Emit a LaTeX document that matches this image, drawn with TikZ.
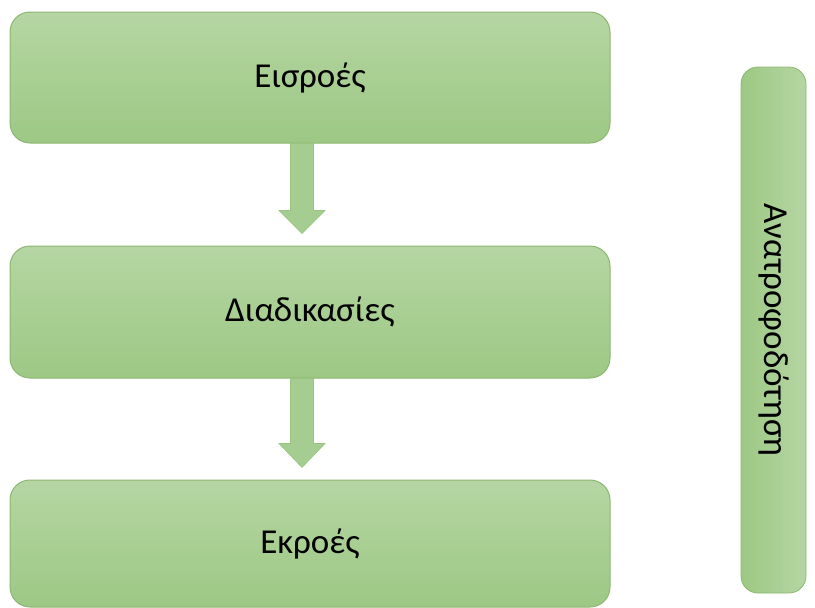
\documentclass[tikz,border=0pt]{standalone}
\usepackage{fontspec}
\setmainfont{Carlito}
\usetikzlibrary{calc}
\definecolor{gtop}{RGB}{181,214,163}
\definecolor{gbot}{RGB}{157,200,132}
\definecolor{gline}{RGB}{140,182,114}
\definecolor{afill}{RGB}{166,205,145}
\definecolor{aline}{RGB}{152,196,128}
\tikzset{
  stagebox/.style={draw=gline, line width=1pt, rounded corners=20pt, top color=gtop, bottom color=gbot,
    minimum width=600pt, inner sep=0pt, font=\fontsize{35}{40}\selectfont, text=black},
  sidebox/.style={draw=gline, line width=0.8pt, rounded corners=17pt, left color=gbot, right color=gtop,
    minimum width=526pt, minimum height=65pt, inner sep=0pt, rotate=-90, font=\fontsize{35}{40}\selectfont, text=black},
  blockarrow/.style={fill=afill, draw=aline, line width=0.6pt, line join=miter}
}
\begin{document}
\begin{tikzpicture}[x=1pt,y=-1pt]
\useasboundingbox (0,0) rectangle (815,608);
\node[stagebox, minimum height=131pt] (b1) at (310,77.5) {Εισροές};
\node[stagebox, minimum height=132pt] (b2) at (310,312) {Διαδικασίες};
\node[stagebox, minimum height=127pt] (b3) at (310,543.5) {Εκροές};
\node[sidebox] (fb) at (773.5,330) {Ανατροφοδότηση};
\draw[blockarrow] ($(b1.south)+(-19.5,0)$) -- ++(0,67) -- ++(-11.5,0) -- ++(23,23) -- ++(23,-23) -- ++(-11.5,0) -- ++(0,-67) -- cycle;
\draw[blockarrow] ($(b2.south)+(-19.5,0)$) -- ++(0,65) -- ++(-11.5,0) -- ++(23,24) -- ++(23,-24) -- ++(-11.5,0) -- ++(0,-65) -- cycle;
\end{tikzpicture}
\end{document}
